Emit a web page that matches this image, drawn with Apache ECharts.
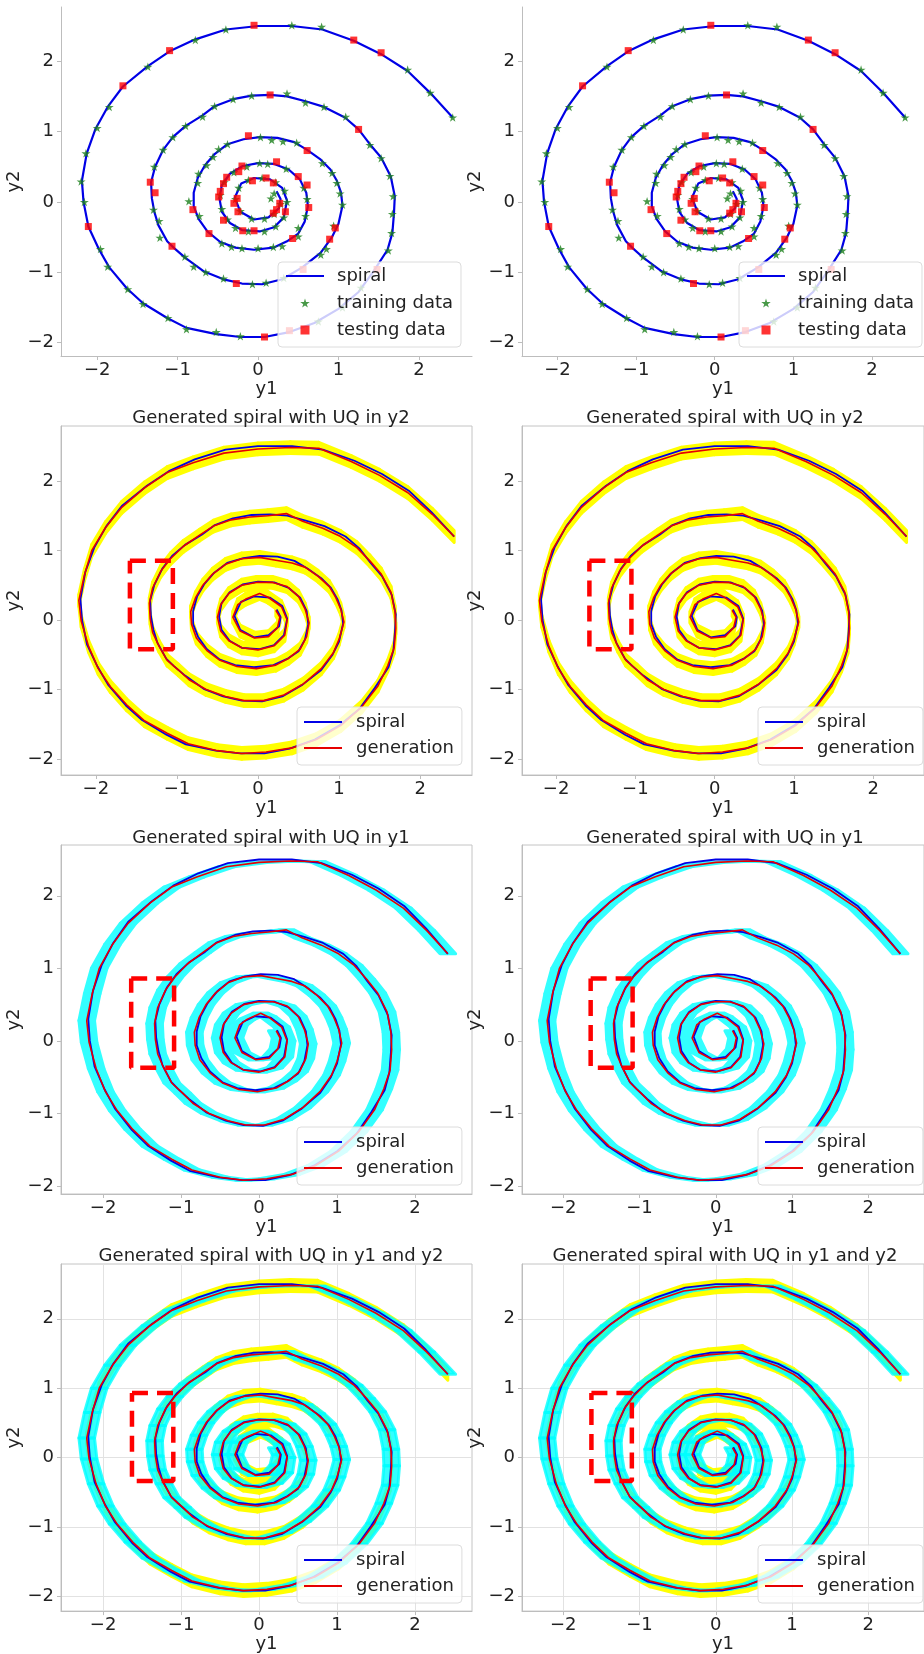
<!DOCTYPE html>
<html>
<head>
<meta charset="utf-8">
<script src="https://cdn.jsdelivr.net/npm/echarts@6/dist/echarts.min.js"></script>
<style>
html, body { margin: 0; padding: 0; background: #fff; }
#main { width: 924px; height: 1654px; }
</style>
</head>
<body>
<div id="main"></div>
<script>
// 螺旋线数据，从外端到中心
var spiral = [
    [2.42,1.20],[2.14,1.55],[1.86,1.86],[1.53,2.10],[1.19,2.29],[0.80,2.45],[0.42,2.50],[0.00,2.50],
    [-0.40,2.45],[-0.78,2.31],[-1.10,2.14],[-1.37,1.93],[-1.68,1.64],[-1.87,1.35],[-2.02,1.04],[-2.13,0.69],
    [-2.19,0.30],[-2.17,0.00],[-2.11,-0.35],[-1.98,-0.67],[-1.85,-0.93],[-1.63,-1.23],[-1.43,-1.44],[-1.13,-1.65],
    [-0.89,-1.79],[-0.52,-1.88],[-0.22,-1.92],[0.08,-1.92],[0.39,-1.85],[0.70,-1.72],[1.00,-1.52],[1.25,-1.28],
    [1.44,-0.98],[1.61,-0.68],[1.67,-0.44],[1.69,-0.16],[1.70,0.08],[1.65,0.36],[1.53,0.63],[1.39,0.82],
    [1.25,1.03],[1.08,1.20],[0.82,1.35],[0.59,1.43],[0.36,1.50],[0.15,1.52],[-0.08,1.51],[-0.31,1.46],
    [-0.54,1.36],[-0.69,1.23],[-0.90,1.08],[-1.06,0.92],[-1.18,0.74],[-1.28,0.50],[-1.33,0.28],[-1.32,0.05],
    [-1.29,-0.14],[-1.24,-0.33],[-1.13,-0.56],[-1.04,-0.66],[-0.90,-0.80],[-0.67,-0.99],[-0.43,-1.10],[-0.20,-1.16],
    [0.05,-1.17],[0.30,-1.10],[0.55,-0.93],[0.78,-0.72],[0.92,-0.50],[1.00,-0.31],[1.05,-0.05],[1.03,0.14],
    [0.98,0.30],[0.90,0.46],[0.78,0.60],[0.61,0.74],[0.45,0.85],[0.24,0.91],[0.02,0.92],[-0.18,0.89],
    [-0.38,0.82],[-0.54,0.68],[-0.66,0.52],[-0.75,0.34],[-0.80,0.13],[-0.80,-0.06],[-0.74,-0.24],[-0.63,-0.42],
    [-0.47,-0.57],[-0.28,-0.65],[-0.05,-0.68],[0.19,-0.65],[0.36,-0.56],[0.50,-0.45],[0.58,-0.28],[0.62,-0.06],
    [0.60,0.13],[0.52,0.32],[0.38,0.46],[0.20,0.54],[0.00,0.55],[-0.19,0.51],[-0.35,0.40],[-0.45,0.24],
    [-0.48,0.05],[-0.45,-0.14],[-0.35,-0.30],[-0.20,-0.40],[0.02,-0.42],[0.20,-0.36],[0.32,-0.22],[0.36,0.02],
    [0.30,0.20],[0.15,0.32],[-0.05,0.34],[-0.21,0.26],[-0.29,0.06],[-0.22,-0.14],[-0.05,-0.25],[0.13,-0.22],
    [0.26,-0.09],[0.28,0.04],[0.23,0.15]
];

// 生成的螺旋线
var generation = [
    [2.42,1.20],[2.15,1.52],[1.85,1.83],[1.50,2.08],[1.15,2.28],[0.75,2.47],[0.40,2.48],[0.00,2.46],
    [-0.42,2.40],[-0.80,2.26],[-1.12,2.12],[-1.40,1.90],[-1.68,1.62],[-1.88,1.33],[-2.05,1.00],[-2.14,0.65],
    [-2.21,0.28],[-2.18,-0.02],[-2.09,-0.38],[-1.97,-0.70],[-1.82,-0.96],[-1.62,-1.22],[-1.40,-1.45],[-1.12,-1.63],
    [-0.86,-1.78],[-0.50,-1.88],[-0.20,-1.92],[0.10,-1.90],[0.42,-1.84],[0.72,-1.72],[1.02,-1.52],[1.28,-1.25],
    [1.48,-0.95],[1.60,-0.66],[1.68,-0.40],[1.70,-0.12],[1.69,0.12],[1.64,0.40],[1.52,0.66],[1.38,0.85],
    [1.22,1.04],[1.02,1.20],[0.80,1.32],[0.55,1.42],[0.35,1.53],[0.12,1.50],[-0.10,1.48],[-0.33,1.44],
    [-0.55,1.35],[-0.72,1.22],[-0.92,1.06],[-1.08,0.88],[-1.20,0.70],[-1.30,0.46],[-1.34,0.24],[-1.33,0.02],
    [-1.30,-0.18],[-1.22,-0.38],[-1.12,-0.58],[-0.98,-0.72],[-0.85,-0.86],[-0.64,-1.00],[-0.40,-1.10],[-0.17,-1.16],
    [0.07,-1.16],[0.32,-1.08],[0.56,-0.92],[0.78,-0.70],[0.93,-0.47],[1.00,-0.28],[1.06,-0.03],[1.02,0.16],
    [0.96,0.32],[0.88,0.48],[0.74,0.63],[0.58,0.76],[0.42,0.82],[0.22,0.86],[0.02,0.90],[-0.20,0.88],
    [-0.40,0.80],[-0.56,0.66],[-0.68,0.50],[-0.77,0.32],[-0.83,0.12],[-0.82,-0.06],[-0.76,-0.26],[-0.63,-0.44],
    [-0.47,-0.58],[-0.26,-0.67],[-0.02,-0.70],[0.22,-0.65],[0.38,-0.55],[0.52,-0.42],[0.60,-0.24],[0.63,-0.04],
    [0.58,0.16],[0.50,0.34],[0.36,0.48],[0.18,0.54],[-0.02,0.54],[-0.20,0.50],[-0.36,0.38],[-0.46,0.22],
    [-0.50,0.04],[-0.46,-0.16],[-0.36,-0.30],[-0.20,-0.40],[0.00,-0.43],[0.20,-0.37],[0.33,-0.22],[0.36,0.00],
    [0.29,0.19],[0.12,0.33],[0.02,0.38],[-0.15,0.30],[-0.25,0.22],[-0.31,0.04],[-0.22,-0.16],[-0.04,-0.26],
    [0.13,-0.24],[0.24,-0.11],[0.27,0.04],[0.22,0.14]
];

var trainingData = [
    [2.42,1.20],[2.14,1.55],[1.86,1.88],[0.79,2.49],[0.42,2.51],[-0.40,2.45],[-0.78,2.30],[-1.37,1.92],
    [-1.85,1.35],[-2.00,1.05],[-2.14,0.69],[-2.20,0.29],[-2.16,0.00],[-1.96,-0.67],[-1.87,-0.92],[-1.62,-1.24],
    [-1.43,-1.45],[-1.12,-1.65],[-0.89,-1.81],[-0.52,-1.85],[-0.22,-1.91],[0.75,-1.70],[1.05,-1.50],[1.28,-1.22],
    [1.62,-0.69],[1.66,-0.44],[1.67,-0.17],[1.68,0.08],[1.64,0.37],[1.53,0.62],[1.39,0.81],[1.09,1.21],
    [0.82,1.35],[0.59,1.41],[0.36,1.54],[-0.08,1.51],[-0.31,1.46],[-0.54,1.36],[-0.69,1.21],[-0.90,1.08],
    [-1.06,0.92],[-1.18,0.74],[-1.29,0.50],[-1.30,-0.11],[-1.23,-0.27],[-1.22,-0.51],[-0.91,-0.78],[-0.80,-0.92],
    [-0.65,-1.00],[-0.43,-1.09],[-0.07,-1.17],[0.10,-1.15],[0.32,-1.08],[0.78,-0.75],[0.85,-0.67],[0.94,-0.34],
    [1.05,-0.04],[1.02,0.12],[0.98,0.27],[0.92,0.41],[0.80,0.55],[0.48,0.84],[0.31,0.86],[0.17,0.88],
    [0.03,0.92],[-0.38,0.82],[-0.49,0.75],[-0.56,0.64],[-0.64,0.52],[-0.74,0.40],[-0.75,0.27],[-0.86,0.01],
    [-0.73,-0.20],[-0.45,-0.59],[-0.33,-0.64],[-0.20,-0.66],[0.00,-0.66],[0.19,-0.64],[0.30,-0.63],[0.50,-0.49],
    [0.50,-0.37],[0.59,-0.20],[0.61,0.04],[0.57,0.20],[0.35,0.47],[0.12,0.54],[0.02,0.55],[-0.14,0.50],
    [-0.30,0.42],[-0.42,0.28],[-0.47,0.10],[-0.45,-0.10],[-0.38,-0.25],[-0.28,-0.37],[-0.12,-0.42],[0.08,-0.42],
    [0.22,-0.35],[0.32,-0.22],[0.36,0.00],[0.33,0.16],[0.22,0.28],[0.05,0.34],[-0.12,0.31],[-0.24,0.20],
    [-0.28,0.04],[-0.22,-0.13],[-0.08,-0.24],[0.08,-0.24],[0.20,-0.17],[0.28,-0.03],[0.16,0.05],[0.20,0.12]
];

var testingData = [
    [1.53,2.12],[1.19,2.30],[-0.05,2.51],[-1.10,2.15],[-1.68,1.65],[-2.11,-0.35],[0.08,-1.92],[0.39,-1.83],
    [1.48,-0.96],[0.56,-0.96],[1.25,1.03],[0.15,1.52],[-1.34,0.28],[-1.28,0.13],[-1.07,-0.63],[-0.27,-1.16],
    [0.96,-0.37],[0.89,-0.53],[0.61,0.73],[-0.12,0.94],[-0.81,-0.11],[-0.61,-0.45],[0.43,-0.52],[0.63,-0.08],
    [0.61,0.24],[0.50,0.36],[0.23,0.57],[-0.20,0.51],[-0.24,0.43],[-0.39,0.35],[-0.43,0.26],[-0.47,0.15],
    [-0.49,0.07],[-0.26,0.05],[-0.30,-0.02],[-0.25,-0.14],[-0.43,-0.26],[-0.19,-0.41],[-0.05,-0.41],[-0.07,0.30],
    [0.10,0.34],[0.19,0.27],[0.27,-0.02],[0.23,-0.11],[0.34,-0.14],[0.19,-0.16]
];

var tickValues = [-2, -1, 0, 1, 2];
var titles = ['Generated spiral with UQ in y2', 'Generated spiral with UQ in y1', 'Generated spiral with UQ in y1 and y2'];
// 不确定性半宽
var uqY1 = 0.10;
var uqY2 = 0.085;
// 红色虚线框 [x0, x1, y0, y1]
var boxRows = [[-1.58, -1.05, -0.42, 0.85], [-1.64, -1.09, -0.37, 0.86], [-1.63, -1.10, -0.34, 0.93]];

var FONT = 'DejaVu Sans';
var FS = 18;
var rowTop = [7, 426, 845, 1264];
var colLeft = [61, 522];
var plotW = 411, plotH = 349;
var xRanges = [[-2.45, 2.66], [-2.43, 2.64], [-2.54, 2.73], [-2.54, 2.73]];
var yRanges = [[-2.19, 2.77], [-2.23, 2.79], [-2.11, 2.70], [-2.215, 2.79]];
var titleCenter = [266, 720];
var titleTop = [404, 824, 1242];
var legendTop = [262, 707, 1127, 1545];

var starPath = 'path://M50,0 L61,35 L98,35 L68,57 L79,91 L50,70 L21,91 L32,57 L2,35 L39,35 Z';
var squarePath = 'path://M0,0 L10,0 L10,10 L0,10 Z';
// 图例里的线条不画圆点
var lineIconStyle = { color: 'rgba(0,0,0,0)', borderWidth: 0 };

function tickFmt(v) {
    return v < 0 ? '\u2212' + Math.abs(v) : String(v);
}

function makeAxis(gi, range, name, gridLines, isY) {
    return {
        type: 'value',
        gridIndex: gi,
        min: range[0],
        max: range[1],
        name: name,
        nameLocation: 'middle',
        nameGap: isY ? 27 : 23,
        nameTextStyle: { fontSize: FS, color: '#222', fontFamily: FONT },
        axisLine: { show: true, onZero: false, lineStyle: { color: '#bdbdbd', width: 1 } },
        axisTick: { show: true, length: 4, customValues: tickValues, lineStyle: { color: '#bdbdbd' } },
        axisLabel: { customValues: tickValues, formatter: tickFmt, fontSize: FS, color: '#222', fontFamily: FONT, margin: isY ? 7 : 5 },
        splitLine: { show: gridLines, lineStyle: { color: '#e2e2e2', width: 1 } }
    };
}

// UQ带：每段前后各偏移 dx/dy
function bandRender(dx, dy, color) {
    return function (params, api) {
        var x1 = api.value(0), y1 = api.value(1), x2 = api.value(2), y2 = api.value(3);
        var pts = [
            api.coord([x1 + dx, y1 + dy]),
            api.coord([x2 + dx, y2 + dy]),
            api.coord([x2 - dx, y2 - dy]),
            api.coord([x1 - dx, y1 - dy])
        ];
        return {
            type: 'polygon',
            shape: { points: pts },
            style: { fill: color, stroke: color, lineWidth: 3, lineJoin: 'round' }
        };
    };
}

var segments = [];
for (var i = 0; i < generation.length - 1; i++) {
    segments.push(generation[i].concat(generation[i + 1]));
}

var grids = [], xAxes = [], yAxes = [], series = [], legends = [], titleList = [];

for (var r = 0; r < 4; r++) {
    for (var c = 0; c < 2; c++) {
        var gi = r * 2 + c;
        grids.push({
            left: colLeft[c], top: rowTop[r], width: plotW, height: plotH,
            show: r > 0, borderColor: '#c4c4c4', borderWidth: 1, backgroundColor: 'transparent'
        });
        xAxes.push(makeAxis(gi, xRanges[r], 'y1', r === 3, false));
        yAxes.push(makeAxis(gi, yRanges[r], 'y2', r === 3, true));

        var legendBase = {
            orient: 'vertical',
            left: colLeft[c] + (r === 0 ? 217 : 236),
            top: legendTop[r],
            itemWidth: 38,
            itemHeight: 9,
            itemGap: r === 0 ? 7 : 6,
            padding: r === 0 ? [4, 8, 7, 7] : [5, 8, 7, 6],
            backgroundColor: 'rgba(255,255,255,0.8)',
            borderColor: '#dcdcdc',
            borderWidth: 1,
            borderRadius: 4,
            selectedMode: false,
            textStyle: { fontSize: FS, color: '#222', fontFamily: FONT, lineHeight: 20, padding: [0, 0, 0, r === 0 ? 8 : 9] }
        };

        if (r === 0) {
            series.push({
                name: 'spiral', type: 'line', xAxisIndex: gi, yAxisIndex: gi,
                data: spiral, symbol: 'none', z: 2,
                lineStyle: { color: '#0000e6', width: 2.2 }, itemStyle: { color: '#0000e6' }
            });
            series.push({
                name: 'training data', type: 'scatter', xAxisIndex: gi, yAxisIndex: gi,
                data: trainingData, symbol: starPath, symbolSize: 9, symbolKeepAspect: true, z: 3,
                itemStyle: { color: '#1a801a' }
            });
            series.push({
                name: 'testing data', type: 'scatter', xAxisIndex: gi, yAxisIndex: gi,
                data: testingData, symbol: squarePath, symbolSize: 7, symbolKeepAspect: true, z: 3,
                itemStyle: { color: '#ff0000' }
            });
            legendBase.data = [{ name: 'spiral', itemStyle: lineIconStyle }, 'training data', 'testing data'];
        } else {
            if (r === 1 || r === 3) {
                series.push({
                    type: 'custom', xAxisIndex: gi, yAxisIndex: gi, z: 1,
                    data: segments, encode: { x: [0, 2], y: [1, 3] },
                    renderItem: bandRender(0, uqY2, '#ffff00')
                });
            }
            if (r === 2 || r === 3) {
                series.push({
                    type: 'custom', xAxisIndex: gi, yAxisIndex: gi, z: 1,
                    data: segments, encode: { x: [0, 2], y: [1, 3] },
                    renderItem: bandRender(uqY1, 0, r === 3 ? 'rgba(0,255,255,0.8)' : '#33ffff')
                });
            }
            series.push({
                name: 'spiral', type: 'line', xAxisIndex: gi, yAxisIndex: gi,
                data: spiral, symbol: 'none', z: 2,
                lineStyle: { color: '#0000e6', width: 1.8 }, itemStyle: { color: '#0000e6' }
            });
            series.push({
                name: 'generation', type: 'line', xAxisIndex: gi, yAxisIndex: gi,
                data: generation, symbol: 'none', z: 3,
                lineStyle: { color: '#e60000', width: 1.6 }, itemStyle: { color: '#e60000' }
            });
            var b = boxRows[r - 1];
            series.push({
                type: 'line', xAxisIndex: gi, yAxisIndex: gi, symbol: 'none', z: 4, silent: true,
                data: [[b[0], b[3]], [b[1], b[3]], [b[1], b[2]], [b[0], b[2]], [b[0], b[3]]],
                lineStyle: { color: '#ff0000', width: 4.5, type: [16, 9] }
            });
            legendBase.data = [{ name: 'spiral', itemStyle: lineIconStyle }, { name: 'generation', itemStyle: lineIconStyle }];
            titleList.push({
                text: titles[r - 1],
                left: titleCenter[c],
                top: titleTop[r - 1],
                textAlign: 'center',
                textStyle: { fontSize: FS, fontWeight: 'normal', color: '#222', fontFamily: FONT }
            });
        }
        legends.push(legendBase);
    }
}

var chart = echarts.init(document.getElementById('main'));
chart.setOption({
    animation: false,
    backgroundColor: '#fff',
    textStyle: { fontFamily: FONT },
    title: titleList,
    legend: legends,
    grid: grids,
    xAxis: xAxes,
    yAxis: yAxes,
    series: series
});
</script>
</body>
</html>
